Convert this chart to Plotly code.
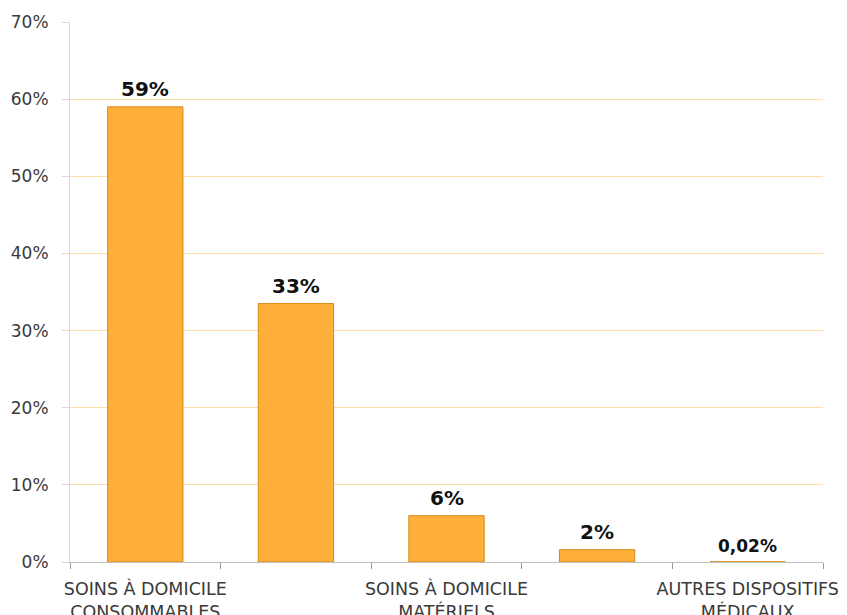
import plotly.graph_objects as go

# Data
categories = ["SOINS À DOMICILE<br>CONSOMMABLES", "", "SOINS À DOMICILE<br>MATÉRIELS", "", "AUTRES DISPOSITIFS<br>MÉDICAUX"]
values = [59.0, 33.5, 6.0, 1.6, 0.02]
value_labels = ["59%", "33%", "6%", "2%", "0,02%"]
label_sizes = [20, 20, 20, 20, 17]
y_ticks = [0, 10, 20, 30, 40, 50, 60, 70]
y_tick_labels = ["0%", "10%", "20%", "30%", "40%", "50%", "60%", "70%"]

x_pos = list(range(len(values)))
tick_positions = [i for i, c in enumerate(categories) if c]
tick_texts = [c for c in categories if c]
boundaries = [i - 0.5 for i in range(len(values) + 1)]

fig = go.Figure()
fig.add_trace(go.Bar(
    x=x_pos, y=values, width=0.5,
    marker=dict(color="#FFB03A", line=dict(color="#D98812", width=1)),
    hoverinfo="skip",
))

for x, v, t, s in zip(x_pos, values, value_labels, label_sizes):
    fig.add_annotation(x=x, y=v, text=t, showarrow=False, yanchor="bottom", yshift=4,
                       font=dict(family="DejaVu Sans", size=s, color="#111111", weight="bold"))

fig.update_layout(
    width=847, height=615,
    margin=dict(l=62, r=32, t=14, b=61),
    plot_bgcolor="white", paper_bgcolor="white",
    showlegend=False,
    font=dict(family="DejaVu Sans", color="#3A3A3A"),
    xaxis=dict(
        range=[-0.5, len(values) - 0.5],
        tickvals=tick_positions, ticktext=tick_texts, ticks="",
        tickfont=dict(family="DejaVu Sans", size=17.5, color="#3A3A3A"),
        showgrid=False, zeroline=False,
        showline=True, linecolor="#BFBFBF", linewidth=1,
        minor=dict(tickvals=boundaries, ticks="outside", ticklen=6, tickcolor="#9A9A9A", showgrid=False),
        ticklabelstandoff=11,
        automargin=False,
    ),
    yaxis=dict(
        range=[0, 70], tickvals=y_ticks, ticktext=y_tick_labels,
        tickfont=dict(family="DejaVu Sans", size=17, color="#3A3A3A"),
        showgrid=True, gridcolor="#FDDCA8", gridwidth=1,
        zeroline=False,
        showline=True, linecolor="#D9D9D9", linewidth=1,
        ticks="outside", ticklen=7, tickcolor="#D9D9D9",
        ticklabelstandoff=10,
        automargin=False,
    ),
    bargap=0.5,
)

fig.write_html("out.html")
